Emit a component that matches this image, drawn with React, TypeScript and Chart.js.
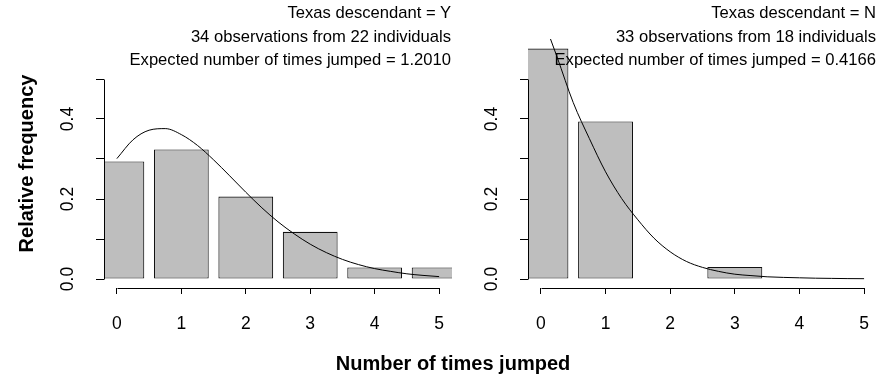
import React, { useEffect, useRef } from 'react';
import { Chart, registerables } from 'chart.js';

Chart.register(...registerables);

// ---------- data ----------
const CATEGORIES = [0, 1, 2, 3, 4, 5];
const FREQ_TEXAS_Y = [0.294, 0.324, 0.206, 0.118, 0.029, 0.029];
const FREQ_TEXAS_N = [0.576, 0.394, null, 0.03, null, null];

const CURVE_X = [0, 0.25, 0.5, 0.75, 1, 1.25, 1.5, 1.75, 2, 2.25, 2.5, 2.75, 3, 3.25, 3.5, 3.75, 4, 4.25, 4.5, 4.75, 5];
const CURVE_TEXAS_Y = [0.301, 0.348, 0.372, 0.376, 0.361, 0.334, 0.298, 0.258, 0.217, 0.178, 0.143, 0.113, 0.087, 0.066, 0.049, 0.036, 0.026, 0.019, 0.013, 0.009, 0.006];
const CURVE_TEXAS_N = [0.665, 0.555, 0.441, 0.351, 0.268, 0.201, 0.148, 0.102, 0.068, 0.044, 0.029, 0.019, 0.012, 0.0085, 0.0055, 0.004, 0.003, 0.002, 0.0015, 0.001, 0.0008];

const Y_TICKS = [0, 0.1, 0.2, 0.3, 0.4, 0.5];
const Y_LABELED = [0, 0.2, 0.4];

const HEADER_Y = ['Texas descendant = Y', '34 observations from 22 individuals', 'Expected number of times jumped = 1.2010'];
const HEADER_N = ['Texas descendant = N', '33 observations from 18 individuals', 'Expected number of times jumped = 0.4166'];

const X_TITLE = 'Number of times jumped';
const Y_TITLE = 'Relative frequency';

// ---------- styling ----------
const FONT = '"Liberation Sans", Arial, Helvetica, sans-serif';

const axisLinePlugin = {
  id: 'rAxisLines',
  afterDraw(chart: any) {
    const { ctx, chartArea, scales } = chart;
    const x = scales.x;
    const y = scales.y;
    ctx.save();
    ctx.strokeStyle = '#000';
    ctx.lineWidth = 1;
    ctx.beginPath();
    const ax = Math.round(chartArea.left) + 0.5;
    ctx.moveTo(ax, Math.round(y.getPixelForValue(Y_TICKS[0])) + 0.5);
    ctx.lineTo(ax, Math.round(y.getPixelForValue(Y_TICKS[Y_TICKS.length - 1])) + 0.5);
    const ay = Math.round(chartArea.bottom) + 0.5;
    ctx.moveTo(Math.round(x.getPixelForValue(CATEGORIES[0])) + 0.5, ay);
    ctx.lineTo(Math.round(x.getPixelForValue(CATEGORIES[CATEGORIES.length - 1])) + 0.5, ay);
    ctx.stroke();
    ctx.restore();
  },
};

type PanelProps = {
  left: number;
  width: number;
  yWidth: number;
  padRight: number;
  bars: (number | null)[];
  curve: number[];
  showYTitle: boolean;
};

function Panel({ left, width, yWidth, padRight, bars, curve, showYTitle }: PanelProps) {
  const ref = useRef<HTMLCanvasElement | null>(null);
  useEffect(() => {
    if (!ref.current) return;
    const chart = new Chart(ref.current, {
      type: 'bar',
      data: {
        datasets: [
          {
            type: 'line',
            data: CURVE_X.map((x, i) => ({ x, y: curve[i] })),
            borderColor: '#000',
            borderWidth: 1,
            pointRadius: 0,
            cubicInterpolationMode: 'monotone',
            fill: false,
            clip: 0,
            order: 0,
          } as any,
          {
            type: 'bar',
            data: CATEGORIES.map((x, i) => ({ x, y: bars[i] })),
            backgroundColor: '#BEBEBE',
            borderColor: '#111',
            borderWidth: 1.1,
            borderSkipped: false,
            barPercentage: 0.85,
            categoryPercentage: 1,
            clip: 0,
            order: 1,
          } as any,
        ],
      },
      options: {
        responsive: false,
        maintainAspectRatio: false,
        animation: false,
        devicePixelRatio: 1,
        events: [],
        layout: { padding: { top: 39, left: 0, right: padRight, bottom: 0 } },
        plugins: {
          legend: { display: false },
          tooltip: { enabled: false },
          title: { display: false },
        },
        scales: {
          x: {
            type: 'linear',
            min: -0.2,
            max: 5.2,
            offset: false,
            afterBuildTicks: (s: any) => {
              s.ticks = CATEGORIES.map((v) => ({ value: v }));
            },
            afterFit: (s: any) => {
              s.height = 89;
              s.paddingLeft = 0;
              s.paddingRight = 0;
            },
            ticks: {
              autoSkip: false,
              maxRotation: 0,
              minRotation: 0,
              padding: 20,
              color: '#000',
              font: { family: FONT, size: 17.5 },
              callback: (v: any) => String(v),
            },
            grid: {
              offset: false,
              drawOnChartArea: false,
              drawTicks: true,
              tickLength: 6,
              color: '#000',
              lineWidth: 1,
            },
            border: { display: false },
          },
          y: {
            type: 'linear',
            min: -0.0225,
            max: 0.6,
            afterBuildTicks: (s: any) => {
              s.ticks = Y_TICKS.map((v) => ({ value: v }));
            },
            afterFit: (s: any) => {
              s.width = yWidth;
              s.paddingTop = 0;
              s.paddingBottom = 0;
            },
            ticks: {
              autoSkip: false,
              minRotation: 90,
              maxRotation: 90,
              crossAlign: 'center',
              padding: 15.5,
              color: '#000',
              font: { family: FONT, size: 17.5 },
              callback: (v: any) => (Y_LABELED.includes(v) ? Number(v).toFixed(1) : ''),
            },
            grid: {
              drawOnChartArea: false,
              drawTicks: true,
              tickLength: 8,
              color: '#000',
              lineWidth: 1,
            },
            border: { display: false },
            title: {
              display: showYTitle,
              text: Y_TITLE,
              color: '#000',
              font: { family: FONT, size: 20, weight: 'bold' },
              padding: { top: 15, bottom: 0 },
            },
          },
        },
      } as any,
      plugins: [axisLinePlugin],
    });
    return () => chart.destroy();
  }, []);
  return (
    <canvas
      ref={ref}
      width={width}
      height={377}
      style={{ position: 'absolute', left, top: 0, width, height: 377, display: 'block' }}
    />
  );
}

function Header({ lines, right }: { lines: string[]; right: number }) {
  const tops = [5.4, 29.4, 51.8];
  return (
    <>
      {lines.map((t, i) => (
        <div
          key={i}
          style={{
            position: 'absolute',
            right,
            top: tops[i],
            fontFamily: FONT,
            fontSize: 16.6,
            lineHeight: '16px',
            whiteSpace: 'nowrap',
            color: '#000',
          }}
        >
          {t}
        </div>
      ))}
    </>
  );
}

export default function App() {
  return (
    <div
      style={{
        position: 'absolute',
        left: 0,
        top: 0,
        width: 880,
        height: 377,
        overflow: 'hidden',
        background: '#fff',
      }}
    >
      <Panel left={0} width={460} yWidth={104} padRight={8} bars={FREQ_TEXAS_Y} curve={CURVE_TEXAS_Y} showYTitle={true} />
      <Panel left={460} width={420} yWidth={68} padRight={3} bars={FREQ_TEXAS_N} curve={CURVE_TEXAS_N} showYTitle={false} />
      <Header lines={HEADER_Y} right={880 - 451} />
      <Header lines={HEADER_N} right={880 - 876} />
      <div
        style={{
          position: 'absolute',
          left: 453,
          top: 353,
          transform: 'translateX(-50%)',
          fontFamily: FONT,
          fontSize: 20,
          fontWeight: 'bold',
          lineHeight: '20px',
          whiteSpace: 'nowrap',
          color: '#000',
        }}
      >
        {X_TITLE}
      </div>
    </div>
  );
}
